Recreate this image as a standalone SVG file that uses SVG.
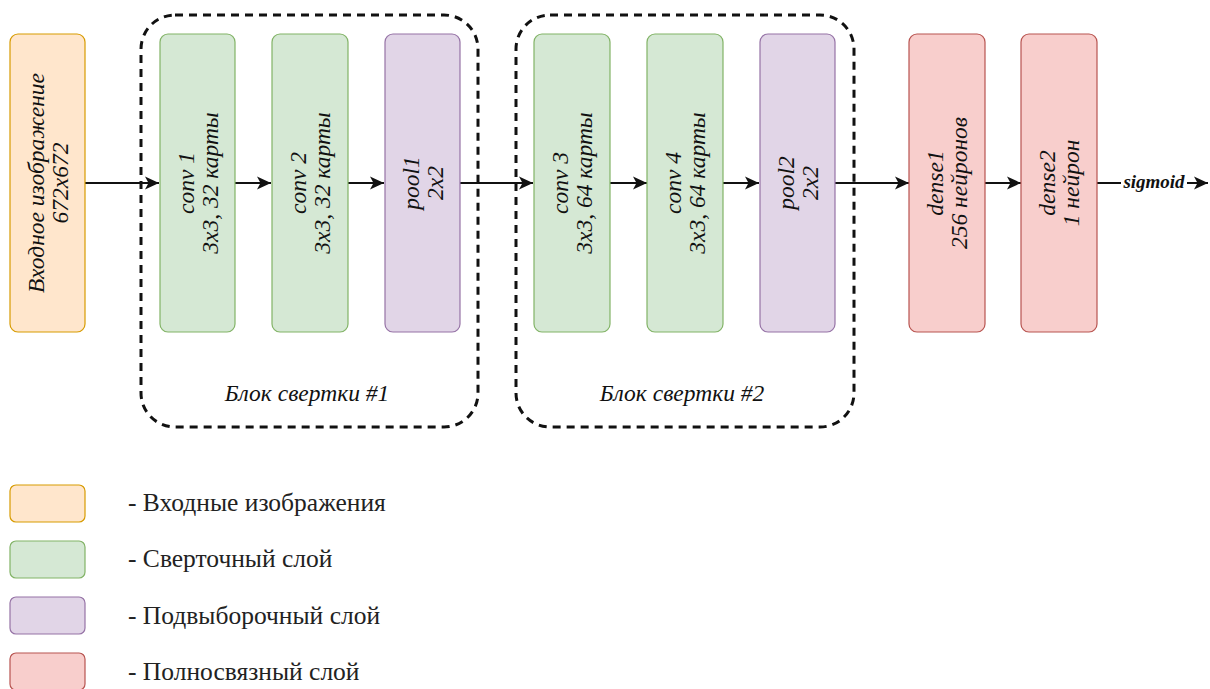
<svg xmlns="http://www.w3.org/2000/svg" width="1210" height="689" viewBox="0 0 1210 689">
  <style>
    .node { stroke-width: 1.2; }
    .input { fill: #ffe6cc; stroke: #d79b00; }
    .conv { fill: #d5e8d4; stroke: #82b366; }
    .pool { fill: #e1d5e7; stroke: #9673a6; }
    .dense { fill: #f8cecc; stroke: #b85450; }
    .lbl { font-family: "Liberation Serif", "Times New Roman", serif; font-style: italic; font-size: 23.5px; fill: #111; text-anchor: middle; }
    .block { fill: none; stroke: #111; stroke-width: 3; stroke-dasharray: 8 6; }
    .edge { fill: none; stroke: #111; stroke-width: 2; }
    .legend { font-family: "Liberation Serif", "Times New Roman", serif; font-size: 25.5px; fill: #222; }
    .sig { font-family: "Liberation Serif", "Times New Roman", serif; font-style: italic; font-weight: bold; font-size: 19px; fill: #111; text-anchor: middle; }
  </style>
  <defs>
    <marker id="arrow" viewBox="0 0 14 14" refX="14" refY="7" markerWidth="14" markerHeight="14" markerUnits="userSpaceOnUse" orient="auto">
      <path d="M0,0.5 L14,7 L0,13.5 L3.5,7 Z" fill="#111"/>
    </marker>
  </defs>

  <rect width="1210" height="689" fill="#ffffff"/>

  <!-- convolution block outlines -->
  <g id="block1">
    <rect class="block" x="141" y="15" width="337" height="412" rx="34"/>
    <text class="lbl" x="307" y="401">Блок свертки #1</text>
  </g>
  <g id="block2">
    <rect class="block" x="516" y="15" width="338" height="412" rx="34"/>
    <text class="lbl" x="682" y="401">Блок свертки #2</text>
  </g>

  <!-- connectors -->
  <g id="connectors">
    <line class="edge" x1="85" y1="183" x2="159" y2="183" marker-end="url(#arrow)"/>
    <line class="edge" x1="235" y1="183" x2="271" y2="183" marker-end="url(#arrow)"/>
    <line class="edge" x1="348" y1="183" x2="384" y2="183" marker-end="url(#arrow)"/>
    <line class="edge" x1="460" y1="183" x2="533" y2="183" marker-end="url(#arrow)"/>
    <line class="edge" x1="610" y1="183" x2="647" y2="183" marker-end="url(#arrow)"/>
    <line class="edge" x1="723" y1="183" x2="759" y2="183" marker-end="url(#arrow)"/>
    <line class="edge" x1="835" y1="183" x2="909" y2="183" marker-end="url(#arrow)"/>
    <line class="edge" x1="985" y1="183" x2="1021" y2="183" marker-end="url(#arrow)"/>
    <line class="edge" x1="1097" y1="183" x2="1208" y2="183" marker-end="url(#arrow)"/>
    <rect x="1121" y="172" width="66" height="21" fill="#ffffff"/>
    <text class="sig" x="1154" y="188">sigmoid</text>
  </g>

  <!-- layers -->
  <g id="input">
    <rect class="node input" x="10" y="34" width="75" height="298" rx="8"/>
    <text class="lbl" transform="translate(48,183) rotate(-90)"><tspan x="0" y="-4">Входное изображение</tspan><tspan x="0" y="20">672x672</tspan></text>
  </g>
  <g id="conv1">
    <rect class="node conv" x="160" y="34" width="75" height="298" rx="8"/>
    <text class="lbl" transform="translate(198,183) rotate(-90)"><tspan x="0" y="-4">conv 1</tspan><tspan x="0" y="20">3x3, 32 карты</tspan></text>
  </g>
  <g id="conv2">
    <rect class="node conv" x="272" y="34" width="76" height="298" rx="8"/>
    <text class="lbl" transform="translate(310,183) rotate(-90)"><tspan x="0" y="-4">conv 2</tspan><tspan x="0" y="20">3x3, 32 карты</tspan></text>
  </g>
  <g id="pool1">
    <rect class="node pool" x="385" y="34" width="75" height="298" rx="8"/>
    <text class="lbl" transform="translate(423,183) rotate(-90)"><tspan x="0" y="-4">pool1</tspan><tspan x="0" y="20">2x2</tspan></text>
  </g>
  <g id="conv3">
    <rect class="node conv" x="534" y="34" width="76" height="298" rx="8"/>
    <text class="lbl" transform="translate(572,183) rotate(-90)"><tspan x="0" y="-4">conv 3</tspan><tspan x="0" y="20">3x3, 64 карты</tspan></text>
  </g>
  <g id="conv4">
    <rect class="node conv" x="647" y="34" width="76" height="298" rx="8"/>
    <text class="lbl" transform="translate(685,183) rotate(-90)"><tspan x="0" y="-4">conv 4</tspan><tspan x="0" y="20">3x3, 64 карты</tspan></text>
  </g>
  <g id="pool2">
    <rect class="node pool" x="760" y="34" width="75" height="298" rx="8"/>
    <text class="lbl" transform="translate(798,183) rotate(-90)"><tspan x="0" y="-4">pool2</tspan><tspan x="0" y="20">2x2</tspan></text>
  </g>
  <g id="dense1">
    <rect class="node dense" x="909" y="34" width="76" height="298" rx="8"/>
    <text class="lbl" transform="translate(947,183) rotate(-90)"><tspan x="0" y="-4">dense1</tspan><tspan x="0" y="20">256 нейронов</tspan></text>
  </g>
  <g id="dense2">
    <rect class="node dense" x="1021" y="34" width="76" height="298" rx="8"/>
    <text class="lbl" transform="translate(1059,183) rotate(-90)"><tspan x="0" y="-4">dense2</tspan><tspan x="0" y="20">1 нейрон</tspan></text>
  </g>

  <!-- legend -->
  <g id="legend">
    <rect class="node input" x="10" y="485" width="75" height="37" rx="6"/>
    <text class="legend" x="128" y="511">- Входные изображения</text>
    <rect class="node conv" x="10" y="541" width="75" height="37" rx="6"/>
    <text class="legend" x="128" y="567">- Сверточный слой</text>
    <rect class="node pool" x="10" y="597" width="75" height="37" rx="6"/>
    <text class="legend" x="128" y="624">- Подвыборочный слой</text>
    <rect class="node dense" x="10" y="653" width="75" height="37" rx="6"/>
    <text class="legend" x="128" y="680">- Полносвязный слой</text>
  </g>
</svg>
